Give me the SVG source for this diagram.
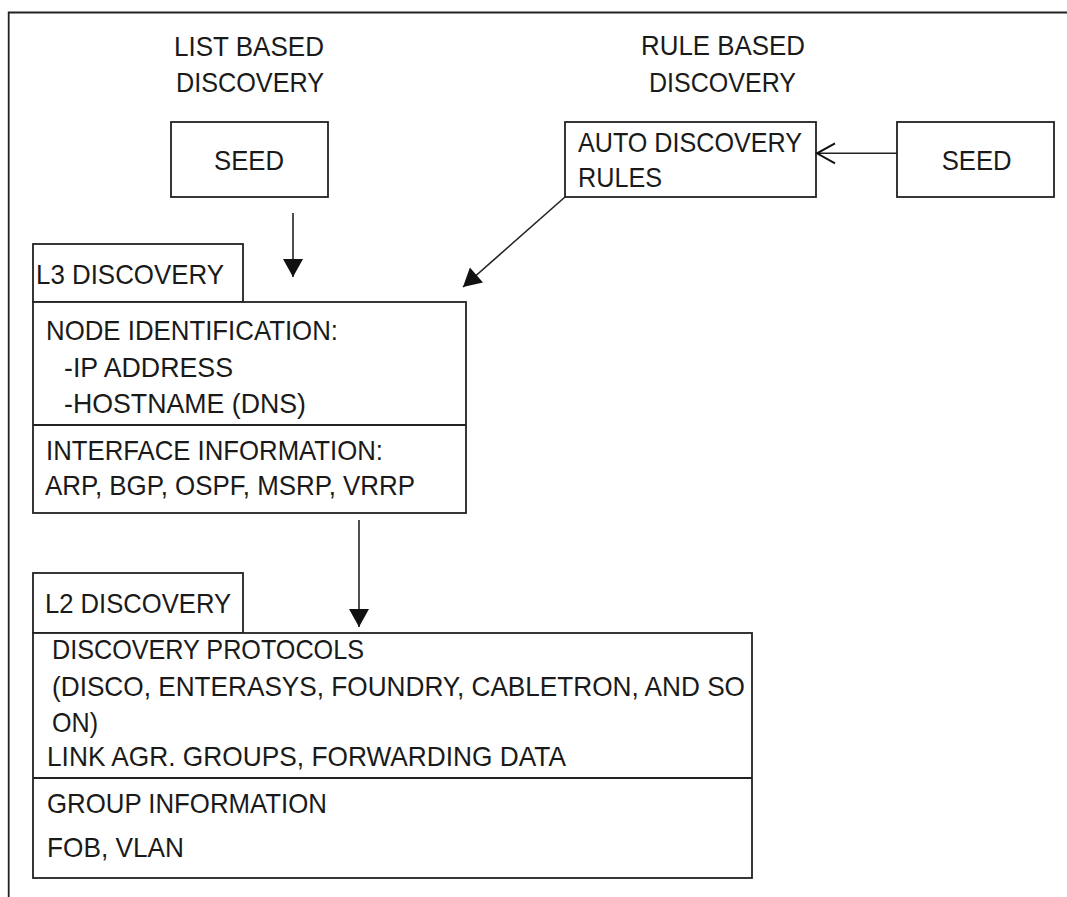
<svg xmlns="http://www.w3.org/2000/svg" width="1067" height="897" viewBox="0 0 1067 897">
<style>
.t{font-family:"Liberation Sans",Arial,sans-serif;font-size:28.5px;fill:#1a1a1a}
.m{text-anchor:middle}
.b{fill:#fff;stroke:#222;stroke-width:1.8}
.l{stroke:#222;stroke-width:1.8;fill:none}
.c{stroke:#222;stroke-width:1.6;fill:none}
</style>
<defs>
<marker id="fa" markerUnits="userSpaceOnUse" markerWidth="20" markerHeight="20" viewBox="0 0 18 20" refX="18" refY="10" orient="auto">
<path d="M0,0 L18,10 L0,20 Z" fill="#111"/>
</marker>
<marker id="oa" markerUnits="userSpaceOnUse" markerWidth="22" markerHeight="24" viewBox="0 0 22 24" refX="20" refY="12" orient="auto">
<path d="M2,2 L20,12 L2,22" fill="none" stroke="#111" stroke-width="2"/>
</marker>
</defs>
<rect width="1067" height="897" fill="#fff"/>
<path class="l" d="M8.7,897 V12.5 H1067"/>
<g id="list-title"><text class="t m" x="249" y="56" textLength="150" lengthAdjust="spacingAndGlyphs">LIST BASED</text><text class="t m" x="250" y="92" textLength="148" lengthAdjust="spacingAndGlyphs">DISCOVERY</text></g>
<g id="rule-title"><text class="t m" x="723" y="55" textLength="164" lengthAdjust="spacingAndGlyphs">RULE BASED</text><text class="t m" x="722.5" y="92" textLength="147" lengthAdjust="spacingAndGlyphs">DISCOVERY</text></g>
<g id="seed1"><rect class="b" x="171" y="122" width="157" height="75"/><text class="t m" x="249" y="170" textLength="70" lengthAdjust="spacingAndGlyphs">SEED</text></g>
<g id="auto-rules"><rect class="b" x="565" y="122" width="251" height="75"/><text class="t" x="578" y="152" textLength="224" lengthAdjust="spacingAndGlyphs">AUTO DISCOVERY</text><text class="t" x="578" y="187" textLength="84" lengthAdjust="spacingAndGlyphs">RULES</text></g>
<g id="seed2"><rect class="b" x="897" y="122" width="157" height="75"/><text class="t m" x="976.7" y="169.5" textLength="70" lengthAdjust="spacingAndGlyphs">SEED</text></g>
<g id="l3">
<rect class="b" x="33" y="244" width="210" height="58"/>
<text class="t" x="36" y="284" textLength="188" lengthAdjust="spacingAndGlyphs">L3 DISCOVERY</text>
<rect class="b" x="33" y="302" width="433" height="211"/>
<line class="l" x1="33" y1="425" x2="466" y2="425"/>
<text class="t" x="46" y="340" textLength="292" lengthAdjust="spacingAndGlyphs">NODE IDENTIFICATION:</text>
<text class="t" x="64" y="377" textLength="169" lengthAdjust="spacingAndGlyphs">-IP ADDRESS</text>
<text class="t" x="64" y="413" textLength="242" lengthAdjust="spacingAndGlyphs">-HOSTNAME (DNS)</text>
<text class="t" x="46" y="460" textLength="337" lengthAdjust="spacingAndGlyphs">INTERFACE INFORMATION:</text>
<text class="t" x="45" y="495" textLength="370" lengthAdjust="spacingAndGlyphs">ARP, BGP, OSPF, MSRP, VRRP</text>
</g>
<g id="l2">
<rect class="b" x="33" y="573" width="210" height="60"/>
<text class="t" x="45" y="613" textLength="186" lengthAdjust="spacingAndGlyphs">L2 DISCOVERY</text>
<rect class="b" x="33" y="633" width="719" height="245"/>
<line class="l" x1="33" y1="778" x2="752" y2="778"/>
<text class="t" x="52" y="659" textLength="312" lengthAdjust="spacingAndGlyphs">DISCOVERY PROTOCOLS</text>
<text class="t" x="52" y="696" textLength="693" lengthAdjust="spacingAndGlyphs">(DISCO, ENTERASYS, FOUNDRY, CABLETRON, AND SO</text>
<text class="t" x="52" y="732" textLength="46" lengthAdjust="spacingAndGlyphs">ON)</text>
<text class="t" x="47" y="765.5" textLength="519" lengthAdjust="spacingAndGlyphs">LINK AGR. GROUPS, FORWARDING DATA</text>
<text class="t" x="47" y="813" textLength="280" lengthAdjust="spacingAndGlyphs">GROUP INFORMATION</text>
<text class="t" x="47" y="857" textLength="137" lengthAdjust="spacingAndGlyphs">FOB, VLAN</text>
</g>
<g id="connectors">
<line class="c" x1="293" y1="213" x2="293" y2="277" marker-end="url(#fa)"/>
<line class="c" x1="565" y1="197" x2="463" y2="287" marker-end="url(#fa)"/>
<line class="c" x1="897" y1="153.3" x2="817" y2="153.3" marker-end="url(#oa)"/>
<line class="c" x1="359" y1="520" x2="359" y2="627" marker-end="url(#fa)"/>
</g>
</svg>
